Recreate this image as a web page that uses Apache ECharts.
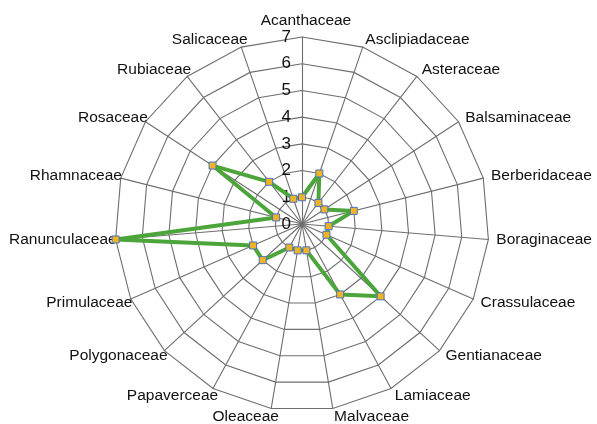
<!DOCTYPE html>
<html>
<head>
<meta charset="utf-8">
<script src="https://cdn.jsdelivr.net/npm/echarts@6/dist/echarts.min.js"></script>
<style>
  html, body { margin: 0; padding: 0; background: #ffffff; }
  #chart { width: 597px; height: 424px; }
</style>
</head>
<body>
<div id="chart"></div>
<script>
// Plant families, clockwise from the top axis
const families = [
  'Acanthaceae', 'Asclipiadaceae', 'Asteraceae', 'Balsaminaceae', 'Berberidaceae',
  'Boraginaceae', 'Crassulaceae', 'Gentianaceae', 'Lamiaceae', 'Malvaceae',
  'Oleaceae', 'Papaverceae', 'Polygonaceae', 'Primulaceae', 'Ranunculaceae',
  'Rhamnaceae', 'Rosaceae', 'Rubiaceae', 'Salicaceae'
];

// Number of species per family
const speciesCount = [1, 2, 1, 1, 2, 1, 1, 4, 3, 1, 1, 1, 2, 2, 7, 1, 4, 2, 1];

// Scale of the value rings
const scaleMin = 0;
const scaleMax = 7;
const scaleSteps = 7;

const gridColor = '#6e6e6e';
const textFont = '"Liberation Sans", Arial, Helvetica, sans-serif';

// ECharts lays radar axes out counter-clockwise, so keep the first axis
// on top and walk the rest backwards to read clockwise.
const n = families.length;
const order = [0];
for (let i = n - 1; i >= 1; i--) order.push(i);

const indicators = order.map((i) => {
  const ind = { name: families[i], min: scaleMin, max: scaleMax };
  if (i === 0) {
    // ring values are printed along the first axis only
    ind.axisLabel = { show: true };
    ind.nameTextStyle = { padding: [0, -8, 0, 0] };
  } else if (i > n / 2) {
    // names on the left half sit a little closer to the rim
    ind.nameTextStyle = { padding: [0, -9, 0, 0] };
  }
  return ind;
});
const values = order.map((i) => speciesCount[i]);

const chart = echarts.init(document.getElementById('chart'), null, { renderer: 'canvas' });

chart.setOption({
  animation: false,
  backgroundColor: '#ffffff',
  radar: {
    center: [302, 224],
    radius: 187,
    startAngle: 90,
    shape: 'polygon',
    splitNumber: scaleSteps,
    indicator: indicators,
    nameGap: 8,
    axisName: {
      color: '#111111',
      fontFamily: textFont,
      fontSize: 15.5
    },
    axisLine: { lineStyle: { color: gridColor, width: 1.1 } },
    splitLine: { lineStyle: { color: gridColor, width: 1.1 } },
    splitArea: { show: false },
    axisTick: { show: false },
    axisLabel: {
      show: false,
      color: '#111111',
      fontFamily: textFont,
      fontSize: 17,
      margin: 11
    }
  },
  series: [{
    type: 'radar',
    symbol: 'rect',
    symbolSize: 7,
    lineStyle: { color: '#4ca53a', width: 4 },
    itemStyle: { color: '#efb425', borderColor: '#4a72c4', borderWidth: 1 },
    data: [{ value: values, name: 'Species' }]
  }]
});
</script>
</body>
</html>
